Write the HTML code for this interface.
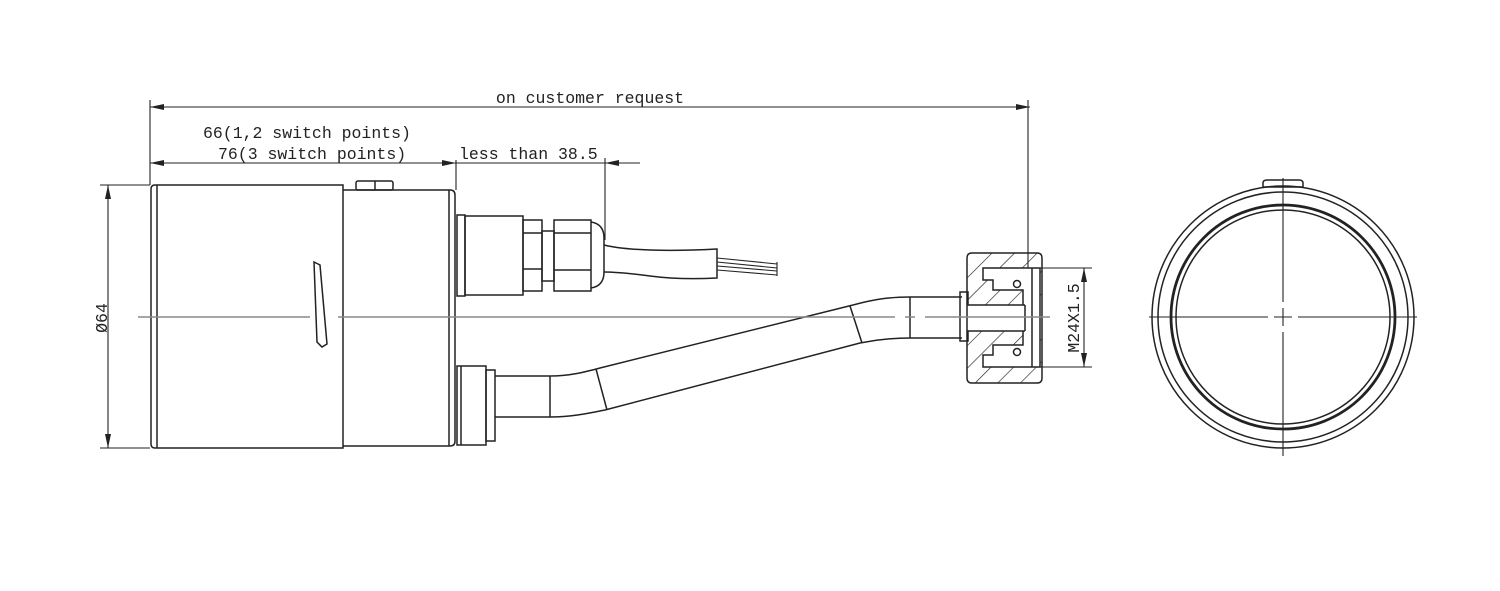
<!DOCTYPE html>
<html><head><meta charset="utf-8"><style>
html,body{margin:0;padding:0;background:#fff;}
svg{display:block;}
text{font-family:"Liberation Mono","DejaVu Sans Mono",monospace;fill:#222;}
</style></head><body>
<svg width="1500" height="591" viewBox="0 0 1500 591" xmlns="http://www.w3.org/2000/svg">
<defs>
<marker id="a" markerWidth="14" markerHeight="6" refX="14" refY="3" orient="auto-start-reverse" markerUnits="userSpaceOnUse"><path d="M0,0 L14,3 L0,6 Z" fill="#222"/></marker>
<clipPath id="nutclip"><path d="M972,253 H1037 Q1042,253 1042,258 V378 Q1042,383 1037,383 H972 Q967,383 967,378 V258 Q967,253 972,253 Z"/></clipPath>
<pattern id="hatch" width="16" height="16" patternUnits="userSpaceOnUse" patternTransform="rotate(45)"><line x1="0" y1="0" x2="0" y2="16" stroke="#222" stroke-width="1.3"/></pattern>
</defs>
<g stroke="#222" stroke-width="1.5" fill="none">
<line x1="150" y1="107" x2="1030" y2="107" marker-start="url(#a)" marker-end="url(#a)" stroke-width="1.1"/>
<line x1="150" y1="100" x2="150" y2="185" stroke-width="1.1"/>
<line x1="1028" y1="100" x2="1028" y2="268" stroke-width="1.1"/>
<line x1="150" y1="163" x2="456" y2="163" marker-start="url(#a)" marker-end="url(#a)" stroke-width="1.1"/>
<line x1="456" y1="160" x2="456" y2="190" stroke-width="1.1"/>
<line x1="456" y1="163" x2="640" y2="163" stroke-width="1.1"/>
<line x1="640" y1="163" x2="605" y2="163" marker-end="url(#a)" stroke-width="1.1"/>
<line x1="605" y1="158" x2="605" y2="240" stroke-width="1.1"/>
<line x1="100" y1="185" x2="150" y2="185" stroke-width="1.1"/>
<line x1="100" y1="448" x2="150" y2="448" stroke-width="1.1"/>
<line x1="108" y1="185" x2="108" y2="448" marker-start="url(#a)" marker-end="url(#a)" stroke-width="1.1"/>
<line x1="1040" y1="268" x2="1092" y2="268" stroke-width="1.1"/>
<line x1="1040" y1="367" x2="1092" y2="367" stroke-width="1.1"/>
<line x1="1084" y1="268" x2="1084" y2="367" marker-start="url(#a)" marker-end="url(#a)" stroke-width="1.1"/>
<path d="M155,185 H343 V448 H155 Q151,448 151,444 V189 Q151,185 155,185 Z"/>
<line x1="157" y1="185" x2="157" y2="448"/>
<path d="M343,190 H450 Q455,190 455,195 V441 Q455,446 450,446 H343"/>
<line x1="449" y1="190" x2="449" y2="446"/>
<rect x="356" y="181" width="37" height="9" rx="2"/>
<line x1="375" y1="181" x2="375" y2="190"/>
<path d="M314,262 L320,265 L327,344 L322,347 L317,342 Z"/>
<rect x="457" y="215" width="8" height="81"/>
<rect x="465" y="216" width="58" height="79"/>
<rect x="523" y="220" width="19" height="71"/>
<line x1="523" y1="233" x2="542" y2="233"/><line x1="523" y1="269" x2="542" y2="269"/>
<rect x="542" y="231" width="12" height="50"/>
<rect x="554" y="220" width="37" height="71"/>
<line x1="554" y1="233" x2="591" y2="233"/><line x1="554" y1="270" x2="591" y2="270"/>
<path d="M591,222 Q604,224 604,238 V272 Q604,286 591,288"/>
<path d="M604,245 Q620,249 650,250 T717,249 V278 Q680,280 650,276 T604,272"/>
<path d="M717,258 L777,264 M717,262 L777,268 M717,266 L777,271 M717,270 L777,275" stroke-width="1.1"/>
<path d="M777,262 V276" stroke-width="1.1"/>
<rect x="457" y="366" width="29" height="79"/>
<line x1="461" y1="366" x2="461" y2="445"/>
<rect x="486" y="370" width="9" height="71"/>
<path d="M495,376 H550 C570,376 585,372 600,368 L853,305 C875,299 890,297 910,297 H962"/>
<path d="M495,417 H550 C570,417 585,414 605,410 L860,343 C880,339 895,338 910,338 H962"/>
<line x1="550" y1="376" x2="550" y2="417"/>
<line x1="596" y1="369" x2="607" y2="410"/>
<line x1="850" y1="306" x2="862" y2="343"/>
<line x1="910" y1="297" x2="910" y2="338"/>
<rect x="960" y="292" width="8" height="49"/>
<g clip-path="url(#nutclip)">
<rect x="967" y="253" width="75" height="130" fill="url(#hatch)" stroke="none"/>
<path d="M983,268 H1040 V367 H983 V355 H993 V345 H1023 V290 H993 V280 H983 Z" fill="#fff" stroke="#222"/>
<rect x="967" y="305" width="58" height="26" fill="#fff" stroke="none"/>
<line x1="967" y1="305" x2="1025" y2="305"/><line x1="967" y1="331" x2="1025" y2="331"/>
<line x1="1025" y1="305" x2="1025" y2="331"/>
<line x1="1032" y1="268" x2="1032" y2="367"/>
</g>
<path d="M972,253 H1037 Q1042,253 1042,258 V378 Q1042,383 1037,383 H972 Q967,383 967,378 V258 Q967,253 972,253 Z"/>
<circle cx="1017" cy="284" r="3.5" fill="#fff"/>
<circle cx="1017" cy="352" r="3.5" fill="#fff"/>
<circle cx="1283" cy="317" r="131"/>
<circle cx="1283" cy="317" r="125"/>
<circle cx="1283" cy="317" r="112" stroke-width="2.8"/>
<circle cx="1283" cy="317" r="107"/>
<path d="M1263,183 Q1263,180 1267,180 H1299 Q1303,180 1303,183 V187 H1263 Z"/>
</g>
<g stroke="#888" stroke-width="1.6" fill="none">
<path d="M138,317 H310 M338,317 H895 M905,317 H915 M925,317 H1050"/>
</g>
<g stroke="#222" stroke-width="1.1" fill="none">
<path d="M1283,178 V302 M1283,308 V326 M1283,332 V456"/>
<path d="M1149,317 H1268 M1274,317 H1292 M1298,317 H1417"/>
</g>
<text x="590" y="103" font-size="16.5" text-anchor="middle">on customer request</text>
<text x="203" y="138" font-size="16.5">66(1,2 switch points)</text>
<text x="218" y="159" font-size="16.5">76(3 switch points)</text>
<text x="459" y="159" font-size="16.5">less than 38.5</text>
<text transform="translate(107,318) rotate(-90)" font-size="16.5" text-anchor="middle">Ø64</text>
<text transform="translate(1079,318) rotate(-90)" font-size="16.5" text-anchor="middle">M24X1.5</text>
</svg>
</body></html>
